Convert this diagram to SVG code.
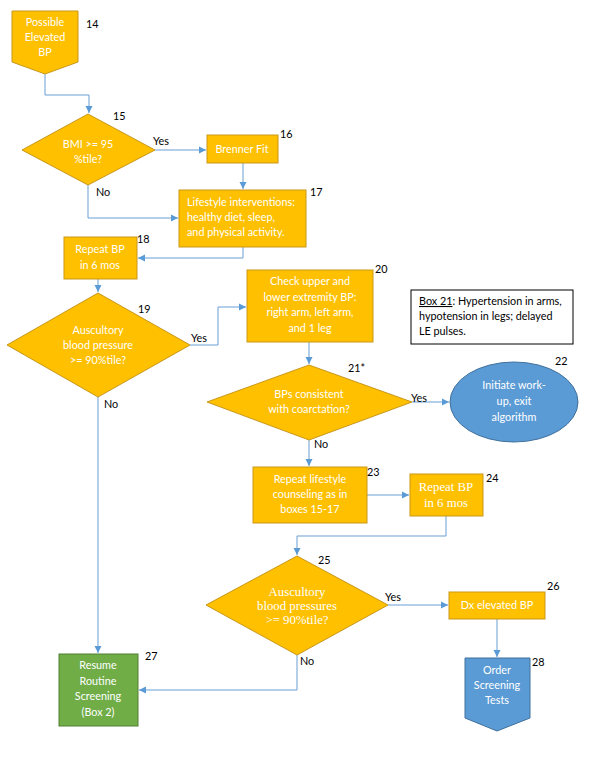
<svg xmlns="http://www.w3.org/2000/svg" width="591" height="764" viewBox="0 0 591 764">
<style>
.o{fill:#FFC000;stroke:#C9971A;stroke-width:1}
.b{fill:#5B9BD5;stroke:#41719C;stroke-width:1}
.g{fill:#70AD47;stroke:#507E32;stroke-width:1}
.t{font-family:Lato,"Liberation Sans",sans-serif;font-size:10.8px;fill:#fff;text-anchor:middle}
.s{font-family:"Liberation Serif",serif;font-size:12.8px;fill:#fff;text-anchor:middle}
.n{font-family:Lato,"Liberation Sans",sans-serif;font-size:10.8px;fill:#000}
.k{font-family:Lato,"Liberation Sans",sans-serif;font-size:10.8px;fill:#000}
.c{fill:none;stroke:#6A9FD4;stroke-width:1}
</style>
<defs>
<marker id="a" markerWidth="8" markerHeight="8" refX="7" refY="4" orient="auto" markerUnits="userSpaceOnUse">
<path d="M0,0.5 L7,4 L0,7.5 Z" fill="#5B9BD5"/>
</marker>
</defs>
<rect width="591" height="764" fill="#fff"/>
<g id="connectors">
<path class="c" d="M45,74 V95 H89 V113" marker-end="url(#a)"/>
<path class="c" d="M155,150 H206" marker-end="url(#a)"/>
<path class="c" d="M243,163 V189" marker-end="url(#a)"/>
<path class="c" d="M88,185 V218 H178" marker-end="url(#a)"/>
<path class="c" d="M243,247 V258 H138" marker-end="url(#a)"/>
<path class="c" d="M98,279 V292" marker-end="url(#a)"/>
<path class="c" d="M190,345 H218 V307 H246" marker-end="url(#a)"/>
<path class="c" d="M98,397 V653" marker-end="url(#a)"/>
<path class="c" d="M309,342 V364" marker-end="url(#a)"/>
<path class="c" d="M412,402 H449" marker-end="url(#a)"/>
<path class="c" d="M309,440 V466" marker-end="url(#a)"/>
<path class="c" d="M367,495 H409" marker-end="url(#a)"/>
<path class="c" d="M446,516 V536 H297 V555" marker-end="url(#a)"/>
<path class="c" d="M388,605 H448" marker-end="url(#a)"/>
<path class="c" d="M497,619 V657" marker-end="url(#a)"/>
<path class="c" d="M297,655 V690 H139" marker-end="url(#a)"/>
<text class="k" x="153" y="145">Yes</text>
<text class="k" x="96" y="196">No</text>
<text class="k" x="191" y="342">Yes</text>
<text class="k" x="104" y="408">No</text>
<text class="k" x="411" y="402">Yes</text>
<text class="k" x="314" y="448">No</text>
<text class="k" x="385" y="601">Yes</text>
<text class="k" x="300" y="665">No</text>
</g>
<g id="n14">
<path class="o" d="M12,11 H78 V62 L45,74 L12,62 Z"/>
<text class="t" x="45" y="26">Possible</text>
<text class="t" x="45" y="41">Elevated</text>
<text class="t" x="45" y="56">BP</text>
<text class="n" x="86" y="28">14</text>
</g>
<g id="n15">
<path class="o" d="M88,114 L155,150 L88,185 L22,150 Z"/>
<text class="t" x="88" y="148">BMI &gt;= 95</text>
<text class="t" x="88" y="163">%tile?</text>
<text class="n" x="113" y="120">15</text>
</g>
<g id="n16">
<rect class="o" x="207" y="135" width="71" height="28"/>
<text class="t" x="242" y="153">Brenner Fit</text>
<text class="n" x="280" y="138">16</text>
</g>
<g id="n17">
<rect class="o" x="179" y="190" width="127" height="57"/>
<text class="t" x="187" y="206" style="text-anchor:start">Lifestyle interventions:</text>
<text class="t" x="187" y="221" style="text-anchor:start">healthy diet, sleep,</text>
<text class="t" x="187" y="236" style="text-anchor:start">and physical activity.</text>
<text class="n" x="310" y="196">17</text>
</g>
<g id="n18">
<rect class="o" x="64" y="237" width="73" height="42"/>
<text class="t" x="100" y="253">Repeat BP</text>
<text class="t" x="100" y="269">in 6 mos</text>
<text class="n" x="137" y="243">18</text>
</g>
<g id="n19">
<path class="o" d="M98,293 L190,345 L98,397 L7,345 Z"/>
<text class="t" x="98" y="334">Auscultory</text>
<text class="t" x="98" y="349">blood pressure</text>
<text class="t" x="98" y="364">&gt;= 90%tile?</text>
<text class="n" x="138" y="313">19</text>
</g>
<g id="n20">
<rect class="o" x="247" y="270" width="126" height="72"/>
<text class="t" x="310" y="285">Check upper and</text>
<text class="t" x="310" y="301">lower extremity BP:</text>
<text class="t" x="310" y="316">right arm, left arm,</text>
<text class="t" x="310" y="332">and 1 leg</text>
<text class="n" x="375" y="273">20</text>
</g>
<g id="box21">
<rect x="411" y="290" width="162" height="54" fill="#fff" stroke="#000" stroke-width="1"/>
<text class="k" x="419" y="305"><tspan text-decoration="underline">Box 21</tspan>: Hypertension in arms,</text>
<text class="k" x="419" y="320">hypotension in legs; delayed</text>
<text class="k" x="419" y="335">LE pulses.</text>
</g>
<g id="n21">
<path class="o" d="M309,365 L412,402 L309,440 L207,402 Z"/>
<text class="t" x="309" y="398">BPs consistent</text>
<text class="t" x="309" y="413">with coarctation?</text>
<text class="n" x="348" y="372">21*</text>
</g>
<g id="n22">
<ellipse class="b" cx="514" cy="402" rx="64" ry="40"/>
<text class="t" x="514" y="389">Initiate work-</text>
<text class="t" x="514" y="405">up, exit</text>
<text class="t" x="514" y="421">algorithm</text>
<text class="n" x="555" y="365">22</text>
</g>
<g id="n23">
<rect class="o" x="253" y="467" width="114" height="56"/>
<text class="t" x="310" y="483">Repeat lifestyle</text>
<text class="t" x="310" y="498">counseling as in</text>
<text class="t" x="310" y="513">boxes 15-17</text>
<text class="n" x="367" y="476">23</text>
</g>
<g id="n24">
<rect class="o" x="410" y="474" width="73" height="42"/>
<text class="s" x="446" y="491">Repeat BP</text>
<text class="s" x="446" y="507">in 6 mos</text>
<text class="n" x="486" y="482">24</text>
</g>
<g id="n25">
<path class="o" d="M297,556 L388,605 L297,655 L206,605 Z"/>
<text class="s" x="297" y="596">Auscultory</text>
<text class="s" x="297" y="610">blood pressures</text>
<text class="s" x="297" y="624">&gt;= 90%tile?</text>
<text class="n" x="318" y="564">25</text>
</g>
<g id="n26">
<rect class="o" x="449" y="592" width="96" height="27"/>
<text class="t" x="497" y="609">Dx elevated BP</text>
<text class="n" x="547" y="590">26</text>
</g>
<g id="n27">
<rect class="g" x="59" y="654" width="79" height="72"/>
<text class="t" x="98" y="669">Resume</text>
<text class="t" x="98" y="685">Routine</text>
<text class="t" x="98" y="700">Screening</text>
<text class="t" x="98" y="716">(Box 2)</text>
<text class="n" x="145" y="660">27</text>
</g>
<g id="n28">
<path class="b" d="M465,658 H530 V718 L497,731 L465,718 Z"/>
<text class="t" x="497" y="674">Order</text>
<text class="t" x="497" y="689">Screening</text>
<text class="t" x="497" y="704">Tests</text>
<text class="n" x="532" y="666">28</text>
</g>
</svg>
